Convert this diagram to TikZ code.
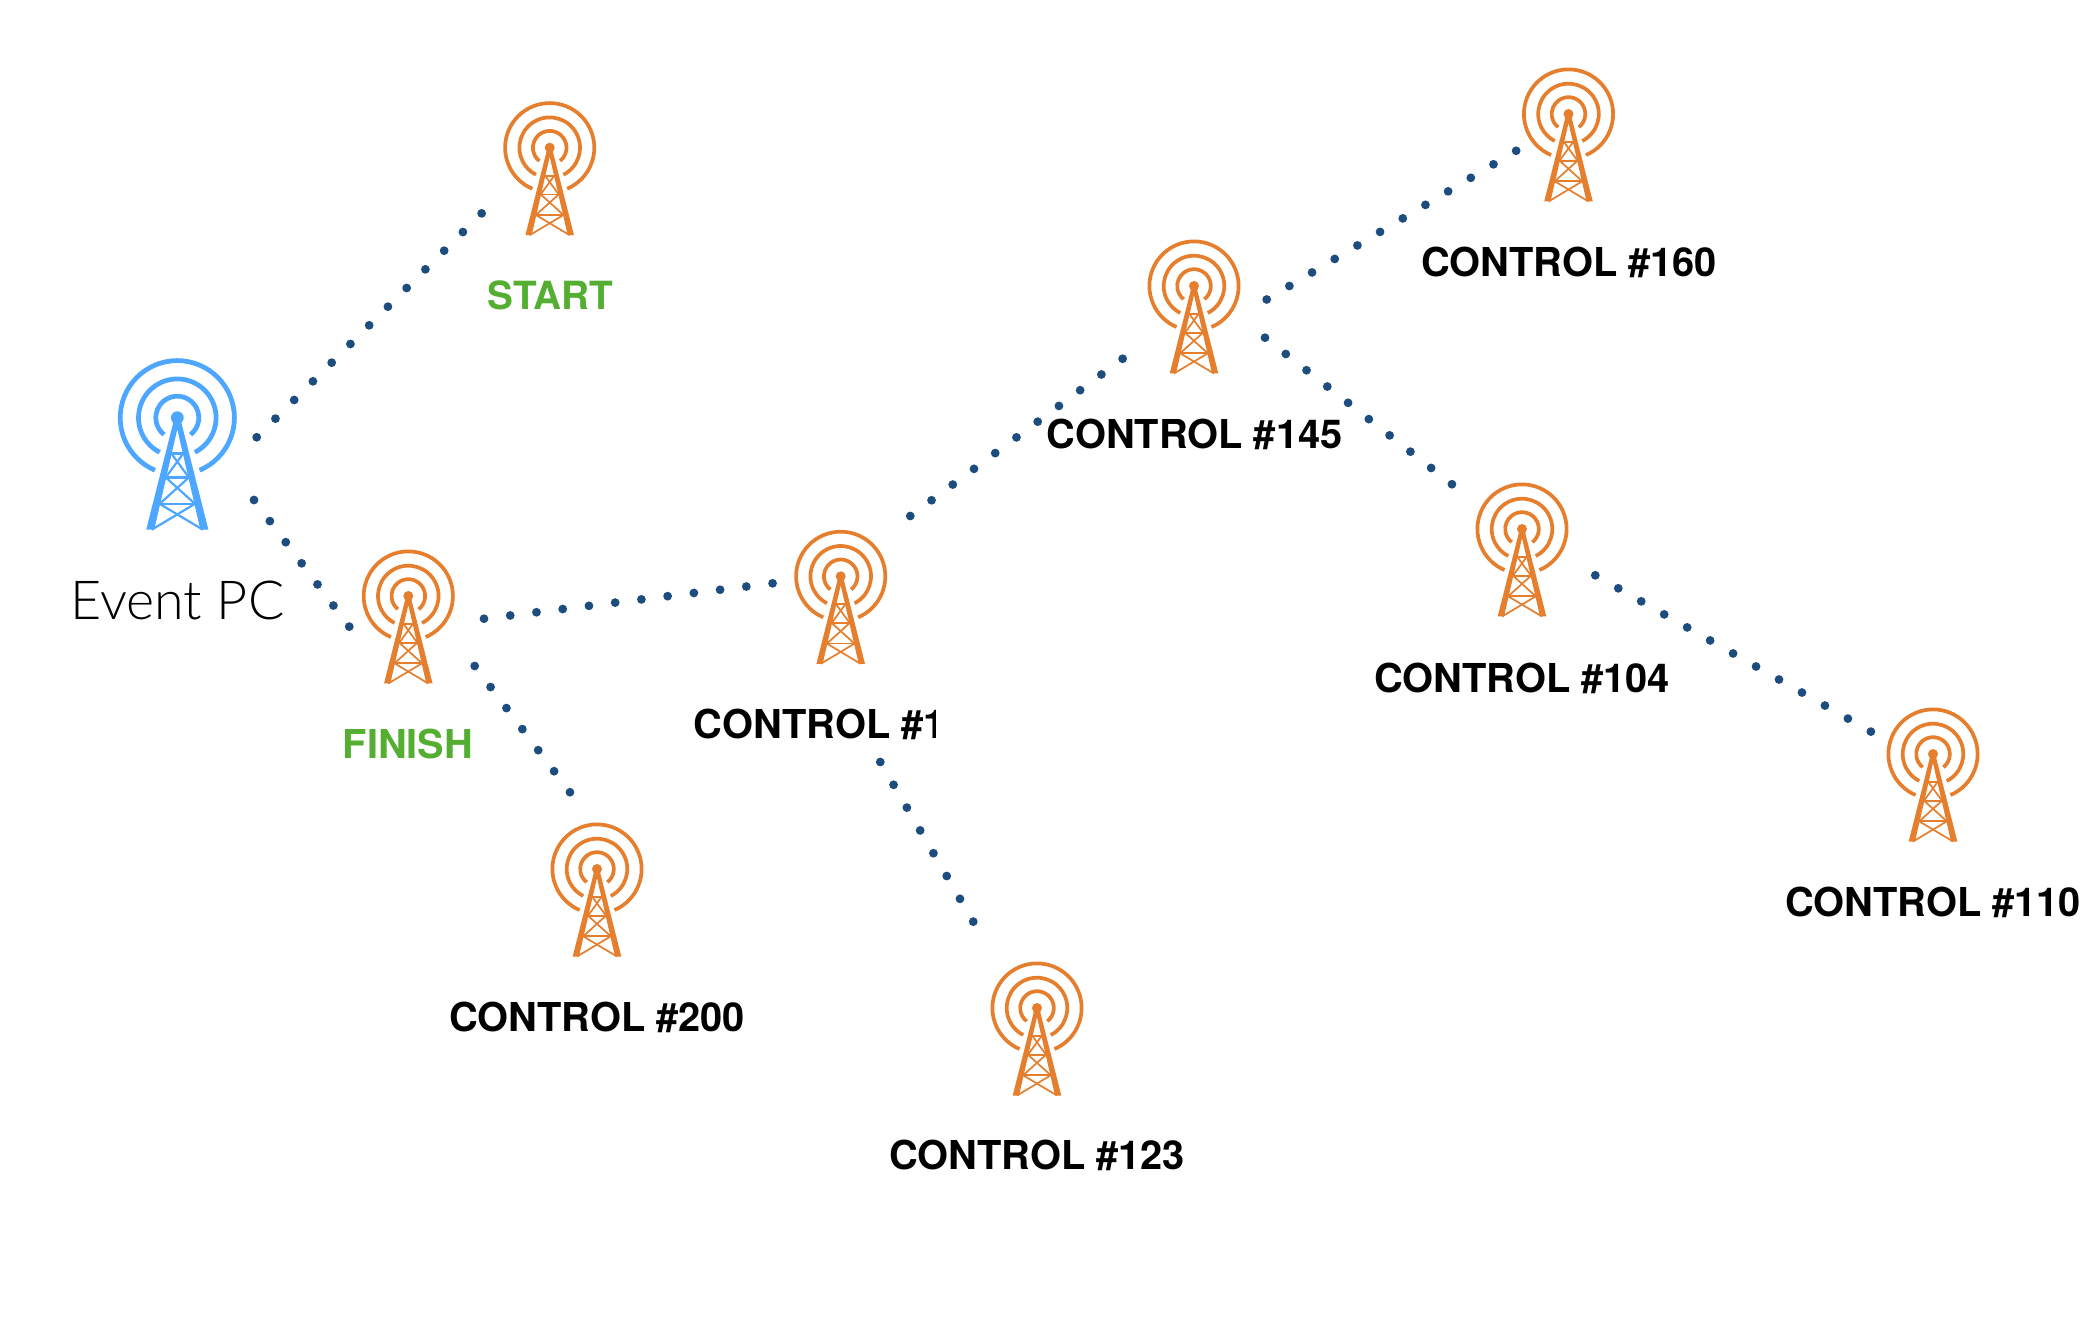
\documentclass[tikz,border=0pt]{standalone}
\usepackage{fontspec}
\setmainfont{TeX Gyre Heros}
\newfontfamily\lightfont{Lato Light}
\definecolor{orangec}{HTML}{E57E2D}
\definecolor{bluec}{HTML}{4DA6FF}
\definecolor{greenc}{HTML}{54AE32}
\definecolor{dotc}{HTML}{1D4C7E}
\newcommand{\towerbody}[2]{%
  \begin{scope}[scale=#1]
    \fill[#2] (0,0) circle (5);
    \fill[#2] (-2.2,0) -- (-24.3,-87.5) -- (-18,-87.5) -- (0,-9) -- (18,-87.5) -- (24.3,-87.5) -- (2.2,0) -- cycle;
    \begin{scope}[#2, line width=#1*1.85pt]
      \draw (-67:44.6) arc[start angle=-67,end angle=247,radius=44.6];
      \draw (-63:30.3) arc[start angle=-63,end angle=243,radius=30.3];
      \draw (-52:16.8) arc[start angle=-52,end angle=232,radius=16.8];
    \end{scope}
    \begin{scope}[#2, line width=#1*0.85pt]
      \draw (-5,-28) -- (5,-28);
      \draw (-9.5,-46.7) -- (9.5,-46.7);
      \draw (-14.5,-67.3) -- (14.5,-67.3);
      \draw (-4.6,-28) -- (9,-46.7);
      \draw (4.6,-28) -- (-9,-46.7);
      \draw (-9,-46.7) -- (13.8,-67.3);
      \draw (9,-46.7) -- (-13.8,-67.3);
      \draw (-13.8,-67.3) -- (20,-87.5);
      \draw (13.8,-67.3) -- (-20,-87.5);
    \end{scope}
  \end{scope}}
\tikzset{
  orangetower/.pic={\towerbody{1}{orangec}},
  bluetower/.pic={\towerbody{1.28}{bluec}},
  link/.style={draw=dotc, line width=4.4pt, line cap=round, dash pattern=on 0pt off #1},
  ctrl/.style={anchor=base, inner sep=0pt, font=\bfseries\fontsize{19.9pt}{22pt}\selectfont, text=black},
  stage/.style={ctrl, text=greenc},
}
\begin{document}
\begin{tikzpicture}[x=0.5pt,y=0.5pt]
\useasboundingbox (0,0) rectangle (2084,-1336);
% towers
\pic at (177.3,-417.7) {bluetower};
\pic at (549.7,-147.7) {orangetower};
\pic at (408.3,-596) {orangetower};
\pic at (597,-869) {orangetower};
\pic at (840.7,-576.3) {orangetower};
\pic at (1037,-1008) {orangetower};
\pic at (1194,-286) {orangetower};
\pic at (1568.5,-114) {orangetower};
\pic at (1522,-529) {orangetower};
\pic at (1933,-754) {orangetower};
% labels
\node[anchor=base, inner sep=0pt, font=\lightfont\fontsize{26.9pt}{30pt}\selectfont] (eventpc) at (177.5,-619.3) {Event PC};
\node[stage, font=\bfseries\fontsize{19.4pt}{22pt}\selectfont] (lstart) at (550.3,-310) {START};
\node[stage] (lfinish) at (408,-758.7) {FINISH};
\node[ctrl] (l200) at (597,-1031.5) {CONTROL \#200};
\begin{scope}
  \clip (680,-700) rectangle (935,-760);
  \node[ctrl, anchor=base west] (l1) at (693.5,-738.7) {CONTROL \#1};
\end{scope}
\node[ctrl] (l123) at (1037,-1169) {CONTROL \#123};
\node[ctrl] (l145) at (1194.5,-448.3) {CONTROL \#145};
\node[ctrl] (l160) at (1569,-277) {CONTROL \#160};
\node[ctrl] (l104) at (1522,-692.5) {CONTROL \#104};
\node[ctrl] (l110) at (1933,-916) {CONTROL \#110};
% connector ends
\coordinate (esA) at (256.7,-437.3);
\coordinate (esB) at (481.7,-213.3);
\coordinate (efA) at (254,-500);
\coordinate (efB) at (349.3,-626.7);
\coordinate (fcA) at (484,-618.7);
\coordinate (fcB) at (772.7,-583.3);
\coordinate (ftA) at (474.7,-666);
\coordinate (ftB) at (570,-792.3);
\coordinate (cdA) at (880.3,-762);
\coordinate (cdB) at (973.3,-921.7);
\coordinate (ceA) at (910.3,-516);
\coordinate (ceB) at (1122.7,-358.7);
\coordinate (egA) at (1266.7,-299.5);
\coordinate (egB) at (1516.3,-150.7);
\coordinate (ehA) at (1265,-337.7);
\coordinate (ehB) at (1452,-484.3);
\coordinate (hiA) at (1595.3,-575.3);
\coordinate (hiB) at (1871,-731.7);
% connectors
\draw[link=13.225pt] (esA) -- (esB);
\draw[link=13.205pt] (efA) -- (efB);
\draw[link=13.215pt] (fcA) -- (fcB);
\draw[link=13.18pt] (ftA) -- (ftB);
\draw[link=13.195pt] (cdA) -- (cdB);
\draw[link=13.21pt] (ceA) -- (ceB);
\draw[link=13.2pt] (egA) -- (egB);
\draw[link=13.195pt] (ehA) -- (ehB);
\draw[link=13.2pt] (hiA) -- (hiB);
\end{tikzpicture}
\end{document}
